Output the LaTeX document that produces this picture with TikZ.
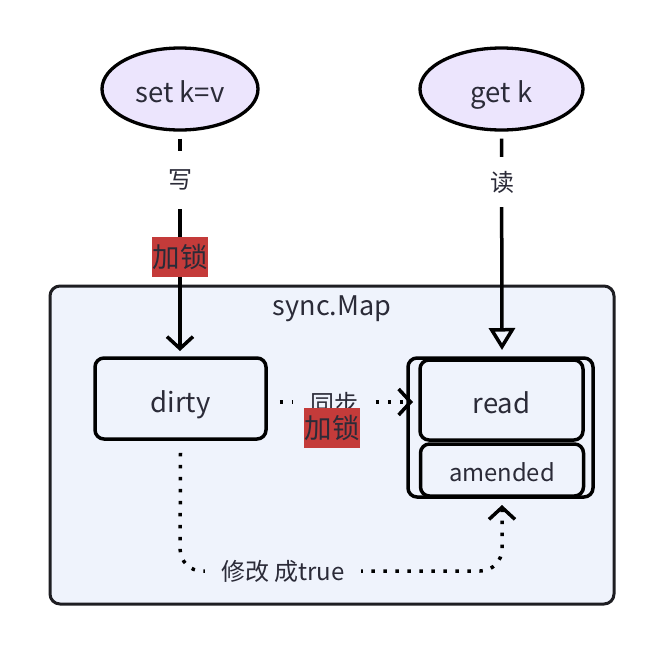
\documentclass[tikz,border=0pt]{standalone}
\usepackage{fontspec}
\setmainfont{Noto Sans CJK SC}
\usetikzlibrary{arrows.meta,shapes.geometric}
\definecolor{txt}{RGB}{43,43,56}
\definecolor{lav}{RGB}{236,229,253}
\definecolor{cfill}{RGB}{239,243,252}
\definecolor{lockred}{RGB}{196,59,58}
\tikzset{
  big/.style={font=\fontsize{27.5}{32}\selectfont, text height=27pt, text depth=0pt},
  oval/.style={ellipse, draw=black, line width=3.3pt, fill=lav, minimum width=156pt, minimum height=82pt, inner sep=0pt, text=txt, big},
  box/.style={rectangle, rounded corners=9pt, draw=black, line width=3.5pt, fill=cfill, inner sep=0pt, text=txt},
  lbl/.style={fill=white, inner sep=2pt, text=txt, font=\fontsize{24}{28}\selectfont},
  lock/.style={fill=lockred, inner sep=0pt, text=txt, font=\fontsize{27.5}{32}\selectfont},
  solidedge/.style={draw=black, line width=3.5pt},
  dotedge/.style={draw=black, line width=3.5pt, dash pattern=on 3.5pt off 8.5pt},
  barb/.style={-{Straight Barb[length=12pt,width=26pt,line width=3.5pt]}},
  tri/.style={-{Triangle[open,length=22pt,width=26pt,line width=3.5pt]}},
}
\begin{document}
\begin{tikzpicture}[x=1pt,y=-1pt]
\useasboundingbox (0,0) rectangle (664,654);
\fill[white] (0,0) rectangle (664,654);
% container
\node[rectangle, rounded corners=10pt, draw={rgb,255:red,30;green,30;blue,34}, line width=3pt, fill=cfill, minimum width=564pt, minimum height=318pt, inner sep=0pt] (map) at (332,445) {};
\node[text=txt, font=\fontsize{27}{32}\selectfont, text height=27pt, text depth=0pt, inner sep=0pt] (maptitle) at (332,301.5) {sync.Map};
% ellipses
\node[oval] (set) at (180,89) {set k=v};
\node[oval, minimum width=163pt] (get) at (501.5,89) {get k};
% boxes
\node[box, minimum width=171pt, minimum height=81pt, big] (dirty) at (180.5,398.5) {dirty};
\node[box, minimum width=185pt, minimum height=139pt] (grp) at (500.5,427.5) {};
\node[box, minimum width=163pt, minimum height=80pt, big] (read) at (501.5,400) {read};
\node[box, minimum width=163pt, minimum height=52pt, font=\fontsize{23.8}{28}\selectfont, text height=22pt, text depth=0pt] (amended) at (502,470) {amended};
% set -> dirty
\coordinate (setend) at (180,351);
\draw[solidedge, barb, shorten <=7pt] (set.south) -- (setend);
\node[lbl, minimum height=58pt] (w) at (180,180) {写};
\node[lock, minimum width=56pt, minimum height=40pt] (lock1) at (180,257) {加锁};
% get -> read
\coordinate (getend) at (502,350);
\draw[solidedge, tri, shorten <=7pt] (get.south) -- (getend);
\node[lbl, minimum height=50pt] (r) at (502,182) {读};
% dirty -> read (sync)
\coordinate (syncend) at (413,402);
\draw[dotedge, barb] ([xshift=12pt]dirty.east |- 0,402) -- (syncend);
\node[fill=cfill, inner sep=2pt, minimum width=82pt, text=txt, font=\fontsize{24}{28}\selectfont] (sync) at (334,403) {同步};
\node[lock, minimum width=56pt, minimum height=40pt] (lock2) at (332,428) {加锁};
% dirty -> amended
\coordinate (amend) at (502,505);
\draw[dotedge, barb, rounded corners=22pt] ([yshift=-12pt]dirty.south) -- (180,571) -- (502,571) -- (amend);
\node[fill=cfill, inner xsep=16pt, inner ysep=3pt, text=txt, font=\fontsize{24}{28}\selectfont] (mod) at (283,571) {修改 成true};
\end{tikzpicture}
\end{document}
